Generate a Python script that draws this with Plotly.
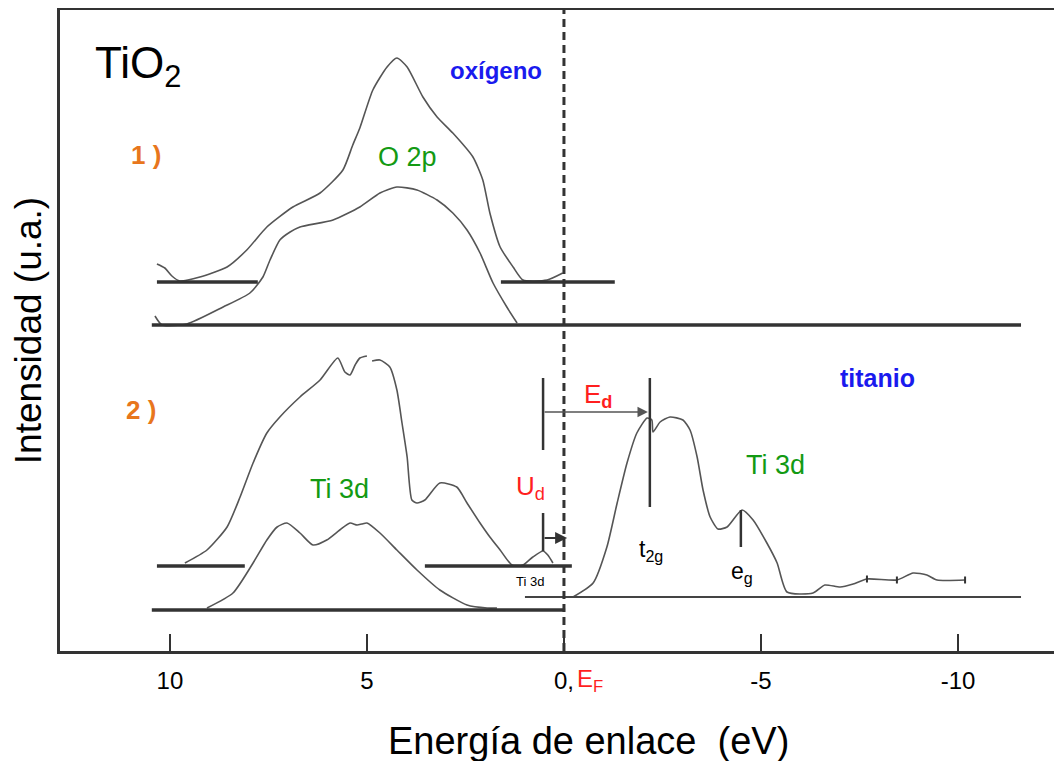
import plotly.graph_objects as go

# ---------------- data (E in eV, intensity in u.a.) ----------------
# 1) oxygen, O 2p : upper and lower spectra
o2p_top_E = [10.33, 10.13, 9.95, 9.75, 9.24, 8.55, 8.05, 7.54, 6.88, 6.19, 5.61, 5.36, 5.18, 4.85, 4.49,
             4.24, 3.98, 3.58, 3.22, 2.82, 2.31, 2.06, 1.88, 1.62, 1.29, 1.04, 0.43, 0.03]
o2p_top_I = [387, 383, 375, 370, 374, 384, 401, 424, 444, 458, 481, 506, 523, 561, 584,
             593, 584, 554, 534, 518, 494, 471, 438, 404, 384, 371, 371, 378]
o2p_bot_E = [10.38, 10.20, 9.57, 8.65, 7.97, 7.64, 7.46, 7.21, 6.95, 6.70, 5.86, 5.18, 4.67, 4.24, 3.73,
             3.22, 2.82, 2.46, 2.13, 1.80, 1.45, 1.19]
o2p_bot_I = [335, 326, 327, 344, 358, 374, 391, 411, 419, 424, 431, 444, 458, 464, 461,
             451, 438, 421, 398, 368, 344, 328]

# 2) titanium, Ti 3d : valence (upper / lower) and conduction spectra
ti_top_E = [9.62, 9.06, 8.55, 8.22, 7.89, 7.54, 7.21, 6.70, 6.19, 5.74, 5.56, 5.43, 5.30, 5.18, 5.00, None,
            4.87, 4.67, 4.42, 4.24, 4.11, 3.98, 3.86, 3.73, 3.53, 3.15, 2.72, 2.46, 2.13, 1.88, 1.62, 1.32,
            1.04, 0.79, 0.53, 0.41, 0.28]
ti_top_I = [88, 101, 124, 154, 188, 218, 234, 254, 271, 293, 279, 276, 286, 293, 295, None,
            290, 291, 284, 261, 228, 194, 151, 148, 151, 168, 164, 148, 128, 114, 101, 86,
            86, 94, 100, 96, 88]
ti_bot_E = [9.06, 8.40, 7.89, 7.54, 7.28, 7.03, 6.70, 6.37, 6.02, 5.69, 5.43, 5.25, 5.13, 5.00, 4.67,
            4.24, 3.73, 3.15, 2.46, 1.95, 1.70]
ti_bot_I = [43, 58, 88, 111, 124, 128, 118, 106, 111, 121, 128, 126, 127, 128, 118,
            101, 81, 61, 46, 43, 43]
ti_cond_E = [-0.23, -0.74, -1.09, -1.35, -1.60, -1.85, -2.11, -2.23, -2.26, -2.44, -2.69, -3.02, -3.20,
             -3.38, -3.53, -3.71, -3.91, -4.14, -4.52, -4.80, -5.15, -5.41, -5.66, -6.32, -6.62, -7.01,
             -7.34, -7.69, -8.45, -8.86, -9.21, -9.47, -10.18]
ti_cond_I = [54, 68, 104, 148, 188, 218, 233, 231, 219, 229, 234, 231, 221,
             194, 161, 134, 122, 124, 141, 131, 108, 88, 59, 58, 66, 64,
             67, 72, 71, 78, 76, 71, 71]
# small dots on the conduction tail
tail_dot_E = [-7.69, -8.45, -10.18]
tail_dot_I = [72, 71, 71]

# baselines (energy limits and levels)
base_thick_E = [10.33, 7.77, None, 1.60, -1.29, None, 10.46, -11.60, None,
                10.33, 8.10, None, 3.53, -0.20, None, 10.46, -0.03]
base_thick_I = [369, 369, None, 369, 369, None, 326, 326, None,
                85, 85, None, 85, 85, None, 41, 41]
base_thin_E = [0.99, -11.60]
base_thin_I = [54, 54]

# markers of energies: U_d / E_d bar, t2g, eg
bar_E = [0.53, 0.53, None, 0.53, 0.53, None, -2.18, -2.18, None, -4.49, -4.49]
bar_I = [273, 201, None, 138, 100, None, 273, 144, None, 141, 104]

tick_vals = [10, 5, 0, -5, -10]
tick_text = ["10", "5", "0,", "-5", "-10"]

FONT = "Liberation Sans, Arial, sans-serif"
CURVE = "#555555"
DARK = "#333333"
GREEN = "#139a13"
BLUE = "#1a1aee"
ORANGE = "#e8761c"
RED = "#ff1f1f"

fig = go.Figure()

for E, I in [(o2p_top_E, o2p_top_I), (o2p_bot_E, o2p_bot_I), (ti_top_E, ti_top_I),
             (ti_bot_E, ti_bot_I), (ti_cond_E, ti_cond_I)]:
    fig.add_trace(go.Scatter(x=E, y=I, mode="lines", connectgaps=False,
                             line=dict(color=CURVE, width=1.6, shape="spline", smoothing=0.6),
                             hoverinfo="skip", showlegend=False))
fig.add_trace(go.Scatter(x=tail_dot_E, y=tail_dot_I, mode="markers",
                         marker=dict(symbol="line-ns", size=5, line=dict(color=DARK, width=2)),
                         hoverinfo="skip", showlegend=False))

fig.add_trace(go.Scatter(x=base_thick_E, y=base_thick_I, mode="lines", connectgaps=False,
                         line=dict(color=DARK, width=3.5), hoverinfo="skip", showlegend=False))
fig.add_trace(go.Scatter(x=base_thin_E, y=base_thin_I, mode="lines",
                         line=dict(color="#444444", width=2), hoverinfo="skip", showlegend=False))
fig.add_trace(go.Scatter(x=bar_E, y=bar_I, mode="lines", connectgaps=False,
                         line=dict(color=DARK, width=2.5), hoverinfo="skip", showlegend=False))
# Fermi level
fig.add_trace(go.Scatter(x=[0, 0], y=[0, 641], mode="lines",
                         line=dict(color=DARK, width=3, dash="8px,5px"),
                         hoverinfo="skip", showlegend=False))

annotations = []
def txt(x, y, text, size, color, bold=False, xanchor="center"):
    annotations.append(dict(x=x, y=y, xref="x", yref="y", text=(f"<b>{text}</b>" if bold else text),
                            showarrow=False, xanchor=xanchor, yanchor="middle",
                            font=dict(family=FONT, size=size, color=color)))

txt(11.95, 585, "TiO<sub>2</sub>", 44, "black", xanchor="left")
txt(10.61, 496, "1 )", 26, ORANGE, bold=True)
txt(10.74, 241, "2 )", 26, ORANGE, bold=True)
txt(3.96, 494, "O 2p", 27, GREEN)
txt(1.73, 581, "oxígeno", 24, BLUE, bold=True)
txt(-7.97, 273, "titanio", 25, BLUE, bold=True)
txt(5.69, 162, "Ti 3d", 27, GREEN)
txt(-5.38, 186, "Ti 3d", 27, GREEN)
txt(-0.86, 256, "E<sub><b>d</b></sub>", 26, RED)
txt(0.86, 164, "U<sub>d</sub>", 26, RED)
txt(0.86, 70, "Ti 3d", 13, "black")
txt(-2.21, 101, "t<sub>2g</sub>", 23, "black")
txt(-4.52, 79, "e<sub>g</sub>", 23, "black")

# arrows E_d and U_d
annotations.append(dict(x=-2.13, y=239, ax=0.53, ay=239, xref="x", yref="y", axref="x", ayref="y",
                        text="", showarrow=True, arrowhead=2, arrowsize=1.3, arrowwidth=1.6,
                        arrowcolor="#555555"))
annotations.append(dict(x=-0.08, y=113, ax=0.53, ay=113, xref="x", yref="y", axref="x", ayref="y",
                        text="", showarrow=True, arrowhead=2, arrowsize=1.2, arrowwidth=2,
                        arrowcolor=DARK))
# E_F next to the 0 tick label
annotations.append(dict(x=0, y=-0.046, xref="x", yref="paper", text="E<sub>F</sub>", showarrow=False,
                        xanchor="left", yanchor="middle", xshift=11,
                        font=dict(family=FONT, size=24, color=RED)))
# x-axis title (placed a little right of the plot centre, as in the original)
annotations.append(dict(x=0.527, y=-0.140, xref="paper", yref="paper",
                        text="Energía de enlace  (eV)", showarrow=False,
                        xanchor="center", yanchor="middle",
                        font=dict(family=FONT, size=38, color="black")))

# the page adds an 8 px body margin, so the figure is 8 px smaller than the window
fig.update_layout(
    width=1054, height=753,
    margin=dict(l=52, r=0, t=2, b=110),
    plot_bgcolor="white", paper_bgcolor="white",
    font=dict(family=FONT, color="black"),
    showlegend=False,
    annotations=annotations,
    xaxis=dict(range=[12.79, -12.64], showgrid=False, zeroline=False,
               showline=True, linecolor=DARK, linewidth=3, mirror=True,
               ticks="inside", ticklen=17, tickwidth=2, tickcolor=DARK,
               tickvals=tick_vals, ticktext=tick_text,
               tickfont=dict(family=FONT, size=24, color="black"), ticklabelstandoff=6),
    yaxis=dict(range=[0, 641], showgrid=False, zeroline=False,
               showline=True, linecolor=DARK, linewidth=3,
               ticks="", showticklabels=False,
               title=dict(text="Intensidad (u.a.)", standoff=18,
                          font=dict(family=FONT, size=37, color="black"))),
)

fig.write_html("out.html")
